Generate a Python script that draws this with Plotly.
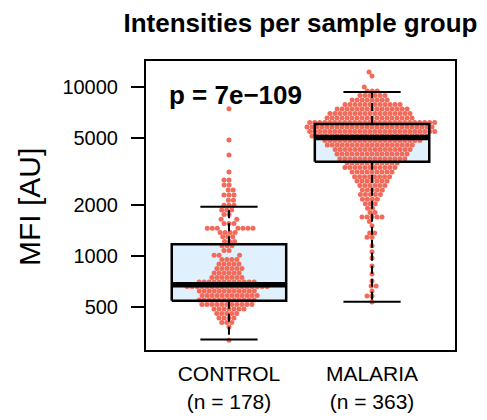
import math
import plotly.graph_objects as go

# ---------------- data ----------------
groups = ["CONTROL", "MALARIA"]
group_n = [178, 363]
p_label = "p = 7e\u2212109"

# beeswarm points: value (MFI) and how many points sit at that level
control_values = [318, 380, 404, 430, 457, 486, 517, 549, 584, 621, 660, 702, 746, 793,
                  843, 897, 954, 1010, 1080, 1150, 1220, 1300, 1380, 1460, 1560, 1650,
                  1760, 1870, 2000, 2140, 2300, 2460, 2630, 2820, 3140, 3960, 4860, 7450]
control_counts = [1, 1, 3, 4, 5, 7, 11, 12, 12, 12, 17, 12, 7, 6,
                  6, 5, 4, 3, 2, 3, 3, 3, 4, 7, 3, 2,
                  2, 3, 3, 2, 3, 2, 2, 2, 1, 1, 1, 1]

malaria_values = [535, 580, 621, 664, 711, 782, 873, 973, 1060, 1150, 1290, 1370, 1510,
                  1600, 1700, 1810, 1920, 2040, 2170, 2310, 2460, 2610, 2780, 2950, 3140,
                  3340, 3550, 3770, 4010, 4270, 4540, 4820, 5130, 5450, 5800, 6160, 6550,
                  6970, 7410, 7880, 8380, 8910, 9470, 10000, 11620, 12270]
malaria_counts = [1, 2, 1, 2, 1, 1, 1, 1, 1, 1, 2, 2, 1,
                  1, 5, 2, 2, 3, 4, 5, 5, 6, 7, 8, 9,
                  11, 11, 14, 15, 16, 18, 20, 24, 26, 26, 26, 18,
                  17, 15, 12, 8, 6, 3, 1, 1, 1]

# boxplot statistics
whisker_low = [321, 537]
q1 = [544, 3614]
median = [676, 5025]
q3 = [1173, 6040]
whisker_high = [1959, 9340]

y_tick_values = [500, 1000, 2000, 5000, 10000]
y_tick_labels = ["500", "1000", "2000", "5000", "10000"]

# ---------------- style / layout constants ----------------
W, H = 487, 420
ML, MR, MT, MB = 146, 32, 61, 70
PW, PH = W - ML - MR, H - MT - MB
X_RANGE = [0.42, 2.58]
Y_RANGE = [2.444, 4.154]
BOX_HALF = 0.4
CAP_HALF = 0.2
DOT = 5.0          # marker diameter, px
POINT_COLOR = "#F26A5A"
BOX_FILL = "#E0F0FC"
FONT = "Liberation Sans, Arial, Helvetica, sans-serif"

px_per_x = PW / (X_RANGE[1] - X_RANGE[0])


def to_py(v):
    return (math.log10(v) - Y_RANGE[0]) / (Y_RANGE[1] - Y_RANGE[0]) * PH


def swarm(values, counts, center):
    """beeswarm 'swarm' layout in pixel space; returns x (data) and y (data)."""
    ys = []
    for v, c in zip(values, counts):
        ys += [v] * c
    ys.sort()
    placed = []
    xs_out = []
    d = DOT
    for v in ys:
        y = to_py(v)
        near = [(px, py) for px, py in placed if abs(py - y) < d]
        cands = [0.0]
        for px, py in near:
            dx = math.sqrt(max(d * d - (py - y) ** 2, 0.0))
            cands += [px - dx, px + dx]
        cands.sort(key=lambda c: (round(abs(c), 6), c))
        xsel = cands[-1]
        for c in cands:
            ok = True
            for px, py in near:
                if (c - px) ** 2 + (y - py) ** 2 < d * d - 1e-6:
                    ok = False
                    break
            if ok:
                xsel = c
                break
        placed.append((xsel, y))
        xs_out.append(center + xsel / px_per_x)
    return xs_out, ys


fig = go.Figure()

# box fills (below points)
for i in range(len(groups)):
    c = i + 1
    fig.add_trace(go.Scatter(
        x=[c - BOX_HALF, c + BOX_HALF, c + BOX_HALF, c - BOX_HALF, c - BOX_HALF],
        y=[q1[i], q1[i], q3[i], q3[i], q1[i]],
        mode="lines", fill="toself", fillcolor=BOX_FILL,
        line=dict(width=0, color=BOX_FILL), hoverinfo="skip"))

# points
for i, (vals, cnts) in enumerate([(control_values, control_counts),
                                  (malaria_values, malaria_counts)]):
    xs, ys = swarm(vals, cnts, i + 1)
    fig.add_trace(go.Scatter(
        x=xs, y=ys, mode="markers",
        marker=dict(size=DOT, color=POINT_COLOR, line=dict(width=0)),
        name=groups[i]))

# whiskers (dashed)
wx, wy = [], []
for i in range(len(groups)):
    c = i + 1
    wx += [c, c, None, c, c, None]
    wy += [q3[i], whisker_high[i], None, q1[i], whisker_low[i], None]
fig.add_trace(go.Scatter(x=wx, y=wy, mode="lines",
                         line=dict(color="black", width=2, dash="8px,5px"),
                         hoverinfo="skip"))

# caps
cx, cy = [], []
for i in range(len(groups)):
    c = i + 1
    cx += [c - CAP_HALF, c + CAP_HALF, None, c - CAP_HALF, c + CAP_HALF, None]
    cy += [whisker_high[i], whisker_high[i], None, whisker_low[i], whisker_low[i], None]
fig.add_trace(go.Scatter(x=cx, y=cy, mode="lines",
                         line=dict(color="black", width=2), hoverinfo="skip"))

# box outlines
bx, by = [], []
for i in range(len(groups)):
    c = i + 1
    bx += [c - BOX_HALF, c + BOX_HALF, c + BOX_HALF, c - BOX_HALF, c - BOX_HALF, None]
    by += [q1[i], q1[i], q3[i], q3[i], q1[i], None]
fig.add_trace(go.Scatter(x=bx, y=by, mode="lines",
                         line=dict(color="black", width=2.5), hoverinfo="skip"))

# medians
mx, my = [], []
for i in range(len(groups)):
    c = i + 1
    mx += [c - BOX_HALF, c + BOX_HALF, None]
    my += [median[i], median[i], None]
fig.add_trace(go.Scatter(x=mx, y=my, mode="lines",
                         line=dict(color="black", width=5.5), hoverinfo="skip"))

fig.update_layout(
    width=W, height=H,
    margin=dict(l=ML, r=MR, t=MT, b=MB, pad=0, autoexpand=False),
    paper_bgcolor="white", plot_bgcolor="white",
    showlegend=False,
    font=dict(family=FONT, color="black"),
    title=dict(text="<b>Intensities per sample group</b>",
               font=dict(size=26, family=FONT, color="black"),
               x=0.5, xref="paper", xanchor="center",
               y=1 - 23 / H, yref="container", yanchor="middle"),
    xaxis=dict(range=X_RANGE, tickvals=[1, 2],
               ticktext=[f"{g}<br>(n = {n})" for g, n in zip(groups, group_n)],
               ticks="", showgrid=False, zeroline=False, automargin=False,
               showline=True, mirror=True, linecolor="black", linewidth=2,
               tickfont=dict(size=21, family=FONT, color="black"),
               ticklabelstandoff=4),
    yaxis=dict(type="log", range=Y_RANGE,
               tickvals=y_tick_values, ticktext=y_tick_labels,
               ticks="outside", ticklen=13, tickwidth=2, tickcolor="black",
               showgrid=False, zeroline=False, automargin=False,
               showline=True, mirror=True, linecolor="black", linewidth=2,
               tickfont=dict(size=20, family=FONT, color="black"),
               ticklabelstandoff=9),
    annotations=[
        dict(text="MFI [AU]", textangle=-90, showarrow=False,
             xref="paper", yref="paper", x=(29 - ML) / PW, y=(MT + PH - 207) / PH,
             xanchor="center", yanchor="middle",
             font=dict(size=30, family=FONT, color="black")),
        dict(text=f"<b>{p_label}</b>", showarrow=False,
             xref="paper", yref="paper", x=(167 - ML) / PW, y=(MT + PH - 95) / PH,
             xanchor="left", yanchor="middle",
             font=dict(size=26, family=FONT, color="black")),
    ],
)

fig.write_html("out.html", config={"displayModeBar": False},
               post_script="document.body.style.margin='0px';")
